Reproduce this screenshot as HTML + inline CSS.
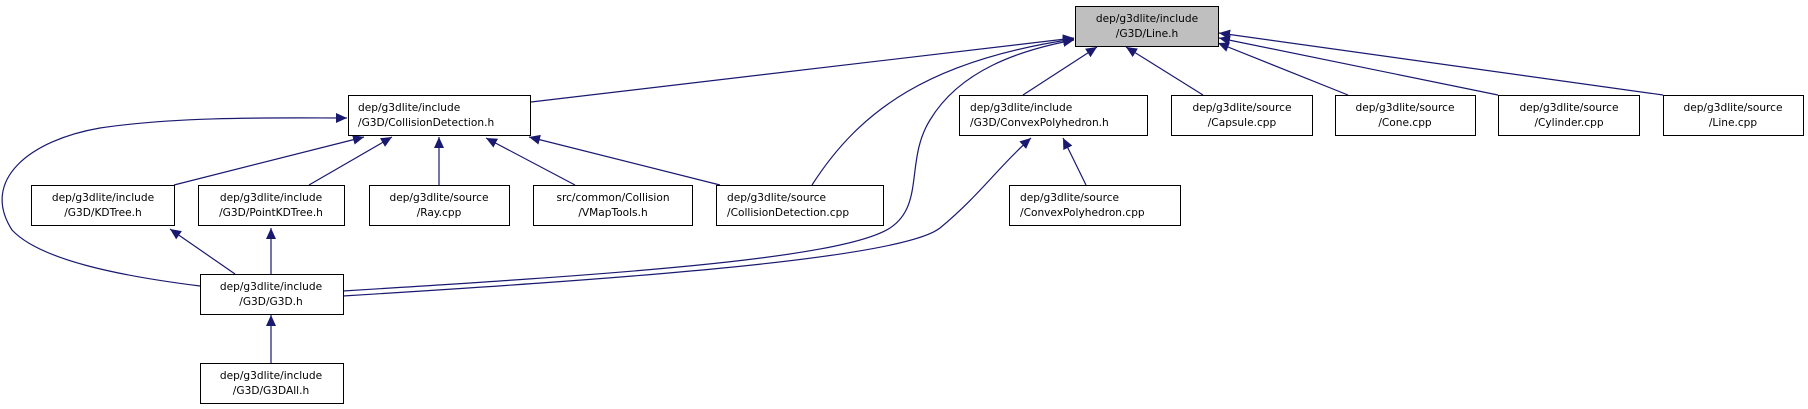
<!DOCTYPE html>
<html><head><meta charset="utf-8"><style>
html,body{margin:0;padding:0;background:#fff;}
svg{display:block;}
text{font-family:"DejaVu Sans","Liberation Sans",sans-serif;font-size:10.6px;fill:#000;}
</style></head><body>
<svg width="1808" height="409" viewBox="0 0 1808 409" xmlns="http://www.w3.org/2000/svg">
<defs>
<marker id="a" markerWidth="12" markerHeight="10" refX="11" refY="5" orient="auto" markerUnits="userSpaceOnUse">
<path d="M0,0 L11,5 L0,10 Z" fill="#191970"/>
</marker>
</defs>
<g fill="none" stroke="#191970" stroke-width="1.2" marker-end="url(#a)">
<!-- to Line.h -->
<path d="M531,102 L1074,38"/>
<path d="M812,185 C860,110 930,60 1074,39"/>
<path d="M343,291 C600,275 840,260 890,228 C925,205 905,160 930,120 C960,70 1020,50 1074,40"/>
<path d="M1023,95 L1097,47"/>
<path d="M1203,95 L1126,47"/>
<path d="M1348,95 L1218,43"/>
<path d="M1498,95 L1219,38"/>
<path d="M1663,95 L1219,33"/>
<!-- to ConvexPolyhedron.h -->
<path d="M343,296 C600,280 900,260 940,228 C980,195 1000,165 1031,138"/>
<path d="M1086,185 L1063,138"/>
<!-- to CollisionDetection.h -->
<path d="M174,185 L364,137"/>
<path d="M309,185 L392,137"/>
<path d="M439,185 L439,137"/>
<path d="M575,185 L486,138"/>
<path d="M720,185 L529,137"/>
<path d="M200,286 C120,276 40,260 12,230 C-20,180 30,140 100,128 C180,116 280,118 347,118"/>
<!-- to G3D.h -->
<path d="M235,274 L170,229"/>
<path d="M271,274 L271,228"/>
<!-- to G3DAll -> G3D -->
<path d="M271,363 L271,315"/>
</g>
<g stroke="#000" stroke-width="1">
<rect x="1075.5" y="6.5" width="143" height="40" fill="#bfbfbf"/>
<rect x="348.5" y="95.5" width="182" height="40" fill="#fff"/>
<rect x="959.5" y="95.5" width="188" height="40" fill="#fff"/>
<rect x="1171.5" y="95.5" width="141" height="40" fill="#fff"/>
<rect x="1335.5" y="95.5" width="140" height="40" fill="#fff"/>
<rect x="1498.5" y="95.5" width="141" height="40" fill="#fff"/>
<rect x="1663.5" y="95.5" width="140" height="40" fill="#fff"/>
<rect x="31.5" y="185.5" width="143" height="40" fill="#fff"/>
<rect x="198.5" y="185.5" width="146" height="40" fill="#fff"/>
<rect x="369.5" y="185.5" width="140" height="40" fill="#fff"/>
<rect x="533.5" y="185.5" width="159" height="40" fill="#fff"/>
<rect x="716.5" y="185.5" width="167" height="40" fill="#fff"/>
<rect x="1009.5" y="185.5" width="171" height="40" fill="#fff"/>
<rect x="200.5" y="274.5" width="143" height="40" fill="#fff"/>
<rect x="200.5" y="363.5" width="143" height="40" fill="#fff"/>
</g>
<g text-anchor="middle">
<text x="1147" y="22">dep/g3dlite/include</text><text x="1147" y="37">/G3D/Line.h</text>
<text x="1242" y="111">dep/g3dlite/source</text><text x="1242" y="126">/Capsule.cpp</text>
<text x="1405" y="111">dep/g3dlite/source</text><text x="1405" y="126">/Cone.cpp</text>
<text x="1569" y="111">dep/g3dlite/source</text><text x="1569" y="126">/Cylinder.cpp</text>
<text x="1733" y="111">dep/g3dlite/source</text><text x="1733" y="126">/Line.cpp</text>
<text x="103" y="201">dep/g3dlite/include</text><text x="103" y="216">/G3D/KDTree.h</text>
<text x="271" y="201">dep/g3dlite/include</text><text x="271" y="216">/G3D/PointKDTree.h</text>
<text x="439" y="201">dep/g3dlite/source</text><text x="439" y="216">/Ray.cpp</text>
<text x="613" y="201">src/common/Collision</text><text x="613" y="216">/VMapTools.h</text>
<text x="271" y="290">dep/g3dlite/include</text><text x="271" y="305">/G3D/G3D.h</text>
<text x="271" y="379">dep/g3dlite/include</text><text x="271" y="394">/G3D/G3DAll.h</text>
</g>
<g>
<text x="358" y="111">dep/g3dlite/include</text><text x="358" y="126">/G3D/CollisionDetection.h</text>
<text x="970" y="111">dep/g3dlite/include</text><text x="970" y="126">/G3D/ConvexPolyhedron.h</text>
<text x="727" y="201">dep/g3dlite/source</text><text x="727" y="216">/CollisionDetection.cpp</text>
<text x="1020" y="201">dep/g3dlite/source</text><text x="1020" y="216">/ConvexPolyhedron.cpp</text>
</g>
</svg>
</body></html>
